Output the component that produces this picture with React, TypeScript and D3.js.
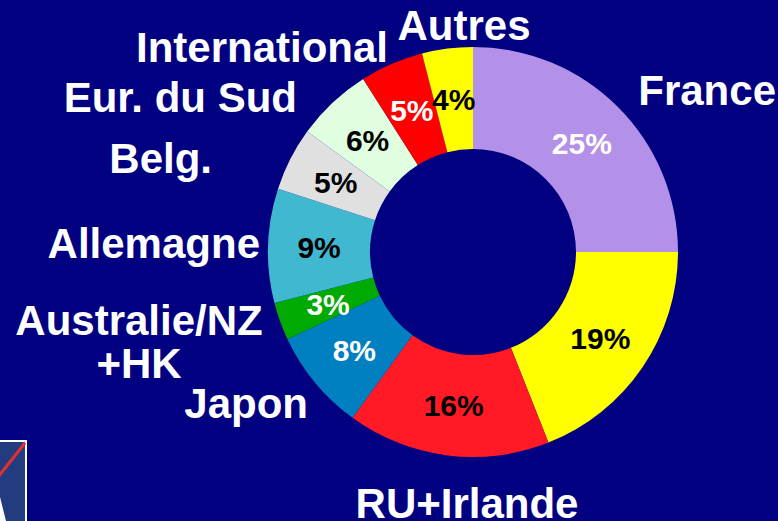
import React from "react";
import * as d3 from "d3";

const categories = ["France", "", "RU+Irlande", "Japon", "Australie/NZ +HK", "Allemagne", "Belg.", "Eur. du Sud", "International", "Autres"];
const values = [25, 19, 16, 8, 3, 9, 5, 6, 5, 4];
const percentLabels = ["25%", "19%", "16%", "8%", "3%", "9%", "5%", "6%", "5%", "4%"];
const sliceColors = ["#B491E8", "#FFFF00", "#FF1A25", "#0080C0", "#00AA00", "#40B8D0", "#E0E0E0", "#E0FFE0", "#FF0000", "#FFFF00"];
const percentColors = ["#FFFFFF", "#000000", "#000000", "#FFFFFF", "#FFFFFF", "#000000", "#000000", "#000000", "#FFFFFF", "#000000"];

// Category label layout (x, y baseline, anchor), lines derived from categories
const labelLayout: { idx: number; x: number; y: number; anchor: string }[] = [
  { idx: 0, x: 776, y: 105, anchor: "end" },
  { idx: 2, x: 467, y: 518, anchor: "middle" },
  { idx: 3, x: 308, y: 418, anchor: "end" },
  { idx: 4, x: 139, y: 335, anchor: "middle" },
  { idx: 5, x: 260, y: 258, anchor: "end" },
  { idx: 6, x: 212, y: 173, anchor: "end" },
  { idx: 7, x: 297, y: 112, anchor: "end" },
  { idx: 8, x: 388, y: 62, anchor: "end" },
  { idx: 9, x: 464, y: 40, anchor: "middle" },
];

const W = 778;
const H = 521;
const cx = 473;
const cy = 252;
const outerR = 205;
const innerR = 103;
const labelR = 154;

export default function App() {
  const pie = d3.pie<number>().sort(null).value((d) => d);
  const arcs = pie(values);
  const arc = d3.arc<d3.PieArcDatum<number>>().innerRadius(innerR).outerRadius(outerR);
  const labelArc = d3.arc<d3.PieArcDatum<number>>().innerRadius(labelR).outerRadius(labelR);
  const font = "'Liberation Sans', Arial, sans-serif";

  return (
    <svg width={W} height={H} style={{ position: "absolute", left: 0, top: 0, display: "block" }}>
      <rect x={0} y={0} width={W} height={H} fill="#000080" />
      {/* logo fragment bottom-left */}
      <g>
        <rect x={-2} y={441} width={28} height={84} fill="#233C80" stroke="#FFFFFF" strokeWidth={2} />
        <line x1={25} y1={443} x2={-2} y2={477} stroke="#E03030" strokeWidth={3} />
        <path d="M0,497 L6,521 L0,521 Z" fill="#FFFFFF" />
      </g>
      <g transform={`translate(${cx},${cy})`}>
        {arcs.map((a, i) => (
          <path key={i} d={arc(a) || ""} fill={sliceColors[i]} />
        ))}
        {arcs.map((a, i) => {
          const [x, y] = labelArc.centroid(a);
          return (
            <text
              key={"p" + i}
              x={x}
              y={y}
              dy="0.36em"
              textAnchor="middle"
              fill={percentColors[i]}
              fontFamily={font}
              fontWeight="bold"
              fontSize={30}
            >
              {percentLabels[i]}
            </text>
          );
        })}
      </g>
      {labelLayout.map((l, i) => {
        const lines = categories[l.idx] === "Australie/NZ +HK" ? ["Australie/NZ", "+HK"] : [categories[l.idx]];
        return (
          <text
            key={"l" + i}
            x={l.x}
            y={l.y}
            textAnchor={l.anchor as any}
            fill="#FFFFFF"
            fontFamily={font}
            fontWeight="bold"
            fontSize={42}
          >
            {lines.map((t, j) => (
              <tspan key={j} x={l.x} dy={j === 0 ? 0 : 43}>
                {t}
              </tspan>
            ))}
          </text>
        );
      })}
    </svg>
  );
}
